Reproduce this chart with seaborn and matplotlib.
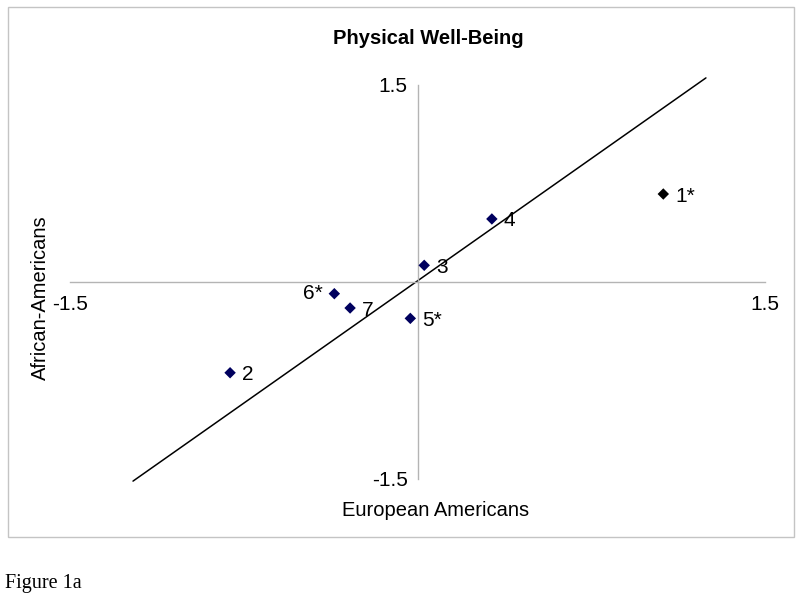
import numpy as np
import pandas as pd
import matplotlib
matplotlib.use("Agg")
import matplotlib.pyplot as plt
from matplotlib.patches import Rectangle
import seaborn as sns

# ---- data ----
labels = ["1*", "2", "3", "4", "5*", "6*", "7"]
european = [1.061, -0.809, 0.029, 0.321, -0.031, -0.359, -0.291]
african = [0.670, -0.691, 0.127, 0.480, -0.277, -0.089, -0.198]
point_colors = ["#000000", "#00005e", "#00005e", "#00005e", "#00005e", "#00005e", "#00005e"]
line_x = [-1.228, 1.245]
line_y = [-1.516, 1.554]
tick_vals = [-1.5, -1.0, -0.5, 0.0, 0.5, 1.0, 1.5]
tick_text = ["-1.5", "", "", "", "", "", "1.5"]

df = pd.DataFrame({"European Americans": european, "African-Americans": african, "label": labels})

sns.set_style("white")
plt.rcParams["font.family"] = ["Liberation Sans", "DejaVu Sans"]
plt.rcParams["text.color"] = "black"
plt.rcParams["axes.labelcolor"] = "black"
plt.rcParams["xtick.color"] = "black"
plt.rcParams["ytick.color"] = "black"

W, H = 800, 597
fig = plt.figure(figsize=(W / 100, H / 100), dpi=100)

def fx(px):
    return px / W

def fy(py):
    return 1 - py / H

ax = fig.add_axes([fx(70), fy(479), fx(765) - fx(70), fy(85) - fy(479)])

sns.lineplot(x=line_x, y=line_y, color="black", linewidth=1.1, ax=ax, sort=False)
for ln in ax.lines:
    ln.set_clip_on(False)
sns.scatterplot(data=df, x="European Americans", y="African-Americans", hue="label",
                palette=dict(zip(labels, point_colors)), marker="D", s=34,
                edgecolor="none", legend=False, ax=ax, zorder=3)

offsets = {"6*": (-12, 0, "right")}
for lab, xv, yv in zip(labels, european, african):
    dx, dy, ha = offsets.get(lab, (12, -2, "left"))
    ax.annotate(lab, (xv, yv), xytext=(dx, dy), textcoords="offset pixels",
                ha=ha, va="center", fontsize=15, color="black")

ax.set_xlim(-1.5, 1.5)
ax.set_ylim(-1.5, 1.5)
ax.set_xlabel("")
ax.set_ylabel("")
ax.patch.set_alpha(0)

for s in ["top", "right"]:
    ax.spines[s].set_visible(False)
for s in ["left", "bottom"]:
    ax.spines[s].set_position(("data", 0))
    ax.spines[s].set_color("#b4b4b4")
    ax.spines[s].set_linewidth(1)

ax.set_xticks(tick_vals)
ax.set_xticklabels(tick_text)
ax.set_yticks(tick_vals)
ax.set_yticklabels(tick_text)
ax.tick_params(axis="both", direction="out", length=4, width=1, color="#b4b4b4",
               labelsize=15, labelcolor="black")
ax.tick_params(axis="x", pad=5)
ax.tick_params(axis="y", pad=3)

fig.text(fx(428), fy(38), "Physical Well-Being", ha="center", va="center",
         fontsize=14.5, fontweight="bold", color="black")
fig.text(fx(436), fy(510), "European Americans", ha="center", va="center",
         fontsize=14.5, color="black")
fig.text(fx(40), fy(298), "African-Americans", ha="center", va="center",
         rotation=90, fontsize=14.5, color="black")
fig.text(fx(5), fy(588), "Figure 1a", ha="left", va="baseline", fontsize=14.5,
         family=["Liberation Serif", "DejaVu Serif"], color="black")

fig.patches.append(Rectangle((fx(8), fy(537)), fx(794) - fx(8), fy(7) - fy(537),
                             transform=fig.transFigure, fill=False,
                             edgecolor="#c4c4c4", linewidth=1))

fig.savefig("out.png", dpi=100)
